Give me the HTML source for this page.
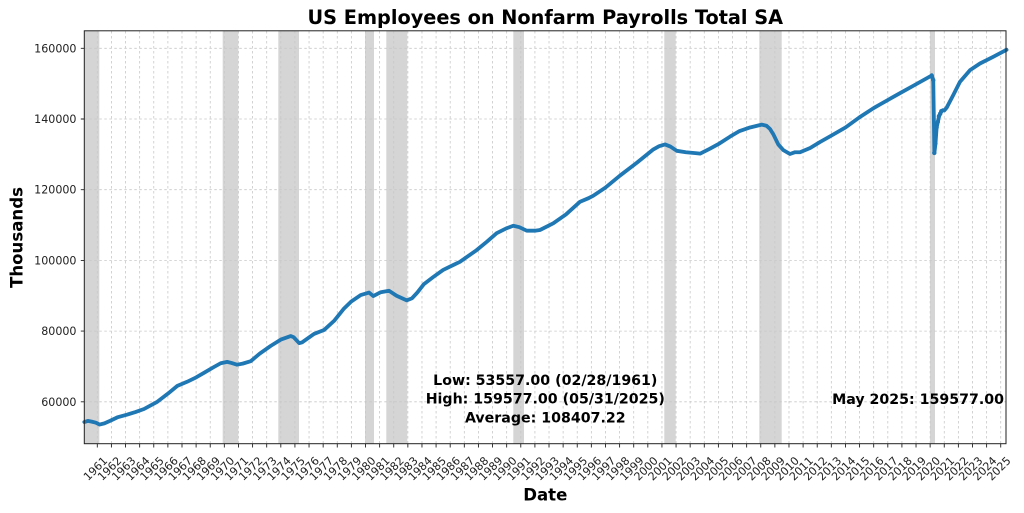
<!DOCTYPE html>
<html><head><meta charset="utf-8"><style>
html,body{margin:0;padding:0;background:#fff;}
svg{display:block;}
text{font-family:"DejaVu Sans","Liberation Sans",sans-serif;}
</style></head><body>
<svg width="1024" height="513" viewBox="0 0 1024 513" xmlns="http://www.w3.org/2000/svg">
<rect width="1024" height="513" fill="#fff"/>
<!-- recession bands -->
<g fill="#d5d5d5">
<rect x="84.3" y="31" width="15" height="413"/>
<rect x="222.7" y="31" width="15.6" height="413"/>
<rect x="278.3" y="31" width="20.7" height="413"/>
<rect x="365" y="31" width="9" height="413"/>
<rect x="386.3" y="31" width="21" height="413"/>
<rect x="513.3" y="31" width="10.7" height="413"/>
<rect x="664.3" y="31" width="11.4" height="413"/>
<rect x="759.3" y="31" width="22.4" height="413"/>
<rect x="930" y="31" width="5" height="413"/>
</g>
<!-- grid -->
<path fill="none" stroke="#c8c8c8" stroke-width="0.8" stroke-dasharray="2.5,2.5" d="M97.30 31V444M111.42 31V444M125.53 31V444M139.65 31V444M153.76 31V444M167.88 31V444M182.00 31V444M196.11 31V444M210.23 31V444M224.34 31V444M238.46 31V444M252.58 31V444M266.69 31V444M280.81 31V444M294.92 31V444M309.04 31V444M323.16 31V444M337.27 31V444M351.39 31V444M365.50 31V444M379.62 31V444M393.74 31V444M407.85 31V444M421.97 31V444M436.08 31V444M450.20 31V444M464.32 31V444M478.43 31V444M492.55 31V444M506.66 31V444M520.78 31V444M534.90 31V444M549.01 31V444M563.13 31V444M577.24 31V444M591.36 31V444M605.48 31V444M619.59 31V444M633.71 31V444M647.82 31V444M661.94 31V444M676.06 31V444M690.17 31V444M704.29 31V444M718.40 31V444M732.52 31V444M746.64 31V444M760.75 31V444M774.87 31V444M788.98 31V444M803.10 31V444M817.22 31V444M831.33 31V444M845.45 31V444M859.56 31V444M873.68 31V444M887.80 31V444M901.91 31V444M916.03 31V444M930.14 31V444M944.26 31V444M958.38 31V444M972.49 31V444M986.61 31V444M1000.72 31V444M84.3 401.8H1006M84.3 331.1H1006M84.3 260.4H1006M84.3 189.7H1006M84.3 119.0H1006M84.3 48.3H1006"/>
<!-- data line -->
<polyline fill="none" stroke="#1f77b4" stroke-width="3.8" stroke-linejoin="round" stroke-linecap="round" vector-effect="non-scaling-stroke" transform="matrix(14.116 0 0 -3.535 83.184 613.9)" points="0.08,54.27 0.33,54.60 0.6,54.4 0.9,54.1 1.16,53.56 1.5,53.9 1.9,54.6 2.42,55.6 3.13,56.4 3.7,57.1 4.31,57.96 5.25,60.0 6.0,62.3 6.67,64.5 7.38,65.7 8.0,66.9 8.56,68.2 9.2,69.7 9.74,70.9 10.2,71.3 10.5,71.0 10.9,70.5 11.3,70.8 11.87,71.5 12.5,73.6 13.28,75.8 14.0,77.6 14.7,78.6 14.9,78.3 15.3,76.6 15.5,76.8 16.35,79.2 17.06,80.3 17.8,83.0 18.48,86.4 19.0,88.4 19.66,90.2 20.25,90.9 20.55,89.9 21.08,91.0 21.67,91.4 22.2,90.0 22.92,88.7 23.3,89.3 23.67,90.9 24.14,93.3 24.8,95.3 25.5,97.3 26.22,98.7 26.69,99.6 27.87,102.9 28.6,105.3 29.29,107.7 30.0,109.1 30.47,109.8 30.9,109.4 31.42,108.4 32.0,108.4 32.36,108.6 33.3,110.5 34.2,113.0 35.2,116.6 35.8,117.6 36.14,118.3 37.0,120.6 38.03,124.0 39.21,127.6 40.39,131.4 40.8,132.3 41.22,132.8 41.6,132.2 42.05,131.0 42.7,130.6 43.46,130.3 43.7,130.2 44.4,131.6 45.0,132.9 45.82,135.0 46.5,136.6 47.24,137.6 48.07,138.4 48.4,138.1 48.65,137.2 48.9,135.6 49.24,132.8 49.6,131.2 50.07,130.1 50.43,130.6 50.78,130.6 51.5,131.8 52.2,133.5 53.0,135.3 54.0,137.6 55.0,140.5 56.0,143.1 56.44,144.1 57.86,147.3 58.81,149.4 60.11,152.3 60.22,151.0 60.3,130.4 60.38,133.1 60.46,137.6 60.55,139.2 60.63,140.8 60.72,141.5 60.8,142.2 60.9,142.5 61.0,142.4 61.17,143.2 61.64,146.8 62.11,150.5 62.82,153.8 63.53,155.7 64.47,157.6 65.41,159.58"/>
<g fill="#1f77b4">
<circle cx="931.7" cy="75.5" r="2.2"/><circle cx="933.2" cy="80.1" r="2.2"/><circle cx="934.3" cy="152.9" r="2.2"/><circle cx="935.4" cy="143.4" r="2.2"/><circle cx="936.6" cy="127.5" r="2.2"/><circle cx="937.8" cy="121.8" r="2.2"/><circle cx="938.9" cy="116.2" r="2.2"/><circle cx="940.2" cy="113.7" r="2.2"/><circle cx="941.3" cy="111.2" r="2.2"/>
</g>
<!-- frame -->
<rect x="84.3" y="30.8" width="921.7" height="412.9" fill="none" stroke="#222" stroke-width="1"/>
<!-- ticks -->
<path fill="none" stroke="#222" stroke-width="0.9" d="M97.30 444v3.5M111.42 444v3.5M125.53 444v3.5M139.65 444v3.5M153.76 444v3.5M167.88 444v3.5M182.00 444v3.5M196.11 444v3.5M210.23 444v3.5M224.34 444v3.5M238.46 444v3.5M252.58 444v3.5M266.69 444v3.5M280.81 444v3.5M294.92 444v3.5M309.04 444v3.5M323.16 444v3.5M337.27 444v3.5M351.39 444v3.5M365.50 444v3.5M379.62 444v3.5M393.74 444v3.5M407.85 444v3.5M421.97 444v3.5M436.08 444v3.5M450.20 444v3.5M464.32 444v3.5M478.43 444v3.5M492.55 444v3.5M506.66 444v3.5M520.78 444v3.5M534.90 444v3.5M549.01 444v3.5M563.13 444v3.5M577.24 444v3.5M591.36 444v3.5M605.48 444v3.5M619.59 444v3.5M633.71 444v3.5M647.82 444v3.5M661.94 444v3.5M676.06 444v3.5M690.17 444v3.5M704.29 444v3.5M718.40 444v3.5M732.52 444v3.5M746.64 444v3.5M760.75 444v3.5M774.87 444v3.5M788.98 444v3.5M803.10 444v3.5M817.22 444v3.5M831.33 444v3.5M845.45 444v3.5M859.56 444v3.5M873.68 444v3.5M887.80 444v3.5M901.91 444v3.5M916.03 444v3.5M930.14 444v3.5M944.26 444v3.5M958.38 444v3.5M972.49 444v3.5M986.61 444v3.5M1000.72 444v3.5M84.3 401.8h-3.5M84.3 331.1h-3.5M84.3 260.4h-3.5M84.3 189.7h-3.5M84.3 119.0h-3.5M84.3 48.3h-3.5"/>
<!-- y tick labels -->
<g font-size="11.1" fill="#222" text-anchor="end">
<text x="76.5" y="405.8">60000</text>
<text x="76.5" y="335.1">80000</text>
<text x="76.5" y="264.4">100000</text>
<text x="76.5" y="193.7">120000</text>
<text x="76.5" y="123.0">140000</text>
<text x="76.5" y="52.3">160000</text>
</g>
<!-- x tick labels -->
<g font-size="11.1" fill="#222" text-anchor="middle">
<text transform="translate(95.3,468.5) rotate(-45)" dy="0.36em">1961</text>
<text transform="translate(109.42,468.5) rotate(-45)" dy="0.36em">1962</text>
<text transform="translate(123.53,468.5) rotate(-45)" dy="0.36em">1963</text>
<text transform="translate(137.65,468.5) rotate(-45)" dy="0.36em">1964</text>
<text transform="translate(151.76,468.5) rotate(-45)" dy="0.36em">1965</text>
<text transform="translate(165.88,468.5) rotate(-45)" dy="0.36em">1966</text>
<text transform="translate(180.00,468.5) rotate(-45)" dy="0.36em">1967</text>
<text transform="translate(194.11,468.5) rotate(-45)" dy="0.36em">1968</text>
<text transform="translate(208.23,468.5) rotate(-45)" dy="0.36em">1969</text>
<text transform="translate(222.34,468.5) rotate(-45)" dy="0.36em">1970</text>
<text transform="translate(236.46,468.5) rotate(-45)" dy="0.36em">1971</text>
<text transform="translate(250.58,468.5) rotate(-45)" dy="0.36em">1972</text>
<text transform="translate(264.69,468.5) rotate(-45)" dy="0.36em">1973</text>
<text transform="translate(278.81,468.5) rotate(-45)" dy="0.36em">1974</text>
<text transform="translate(292.92,468.5) rotate(-45)" dy="0.36em">1975</text>
<text transform="translate(307.04,468.5) rotate(-45)" dy="0.36em">1976</text>
<text transform="translate(321.16,468.5) rotate(-45)" dy="0.36em">1977</text>
<text transform="translate(335.27,468.5) rotate(-45)" dy="0.36em">1978</text>
<text transform="translate(349.39,468.5) rotate(-45)" dy="0.36em">1979</text>
<text transform="translate(363.50,468.5) rotate(-45)" dy="0.36em">1980</text>
<text transform="translate(377.62,468.5) rotate(-45)" dy="0.36em">1981</text>
<text transform="translate(391.74,468.5) rotate(-45)" dy="0.36em">1982</text>
<text transform="translate(405.85,468.5) rotate(-45)" dy="0.36em">1983</text>
<text transform="translate(419.97,468.5) rotate(-45)" dy="0.36em">1984</text>
<text transform="translate(434.08,468.5) rotate(-45)" dy="0.36em">1985</text>
<text transform="translate(448.20,468.5) rotate(-45)" dy="0.36em">1986</text>
<text transform="translate(462.32,468.5) rotate(-45)" dy="0.36em">1987</text>
<text transform="translate(476.43,468.5) rotate(-45)" dy="0.36em">1988</text>
<text transform="translate(490.55,468.5) rotate(-45)" dy="0.36em">1989</text>
<text transform="translate(504.66,468.5) rotate(-45)" dy="0.36em">1990</text>
<text transform="translate(518.78,468.5) rotate(-45)" dy="0.36em">1991</text>
<text transform="translate(532.90,468.5) rotate(-45)" dy="0.36em">1992</text>
<text transform="translate(547.01,468.5) rotate(-45)" dy="0.36em">1993</text>
<text transform="translate(561.13,468.5) rotate(-45)" dy="0.36em">1994</text>
<text transform="translate(575.24,468.5) rotate(-45)" dy="0.36em">1995</text>
<text transform="translate(589.36,468.5) rotate(-45)" dy="0.36em">1996</text>
<text transform="translate(603.48,468.5) rotate(-45)" dy="0.36em">1997</text>
<text transform="translate(617.59,468.5) rotate(-45)" dy="0.36em">1998</text>
<text transform="translate(631.71,468.5) rotate(-45)" dy="0.36em">1999</text>
<text transform="translate(645.82,468.5) rotate(-45)" dy="0.36em">2000</text>
<text transform="translate(659.94,468.5) rotate(-45)" dy="0.36em">2001</text>
<text transform="translate(674.06,468.5) rotate(-45)" dy="0.36em">2002</text>
<text transform="translate(688.17,468.5) rotate(-45)" dy="0.36em">2003</text>
<text transform="translate(702.29,468.5) rotate(-45)" dy="0.36em">2004</text>
<text transform="translate(716.40,468.5) rotate(-45)" dy="0.36em">2005</text>
<text transform="translate(730.52,468.5) rotate(-45)" dy="0.36em">2006</text>
<text transform="translate(744.64,468.5) rotate(-45)" dy="0.36em">2007</text>
<text transform="translate(758.75,468.5) rotate(-45)" dy="0.36em">2008</text>
<text transform="translate(772.87,468.5) rotate(-45)" dy="0.36em">2009</text>
<text transform="translate(786.98,468.5) rotate(-45)" dy="0.36em">2010</text>
<text transform="translate(801.10,468.5) rotate(-45)" dy="0.36em">2011</text>
<text transform="translate(815.22,468.5) rotate(-45)" dy="0.36em">2012</text>
<text transform="translate(829.33,468.5) rotate(-45)" dy="0.36em">2013</text>
<text transform="translate(843.45,468.5) rotate(-45)" dy="0.36em">2014</text>
<text transform="translate(857.56,468.5) rotate(-45)" dy="0.36em">2015</text>
<text transform="translate(871.68,468.5) rotate(-45)" dy="0.36em">2016</text>
<text transform="translate(885.80,468.5) rotate(-45)" dy="0.36em">2017</text>
<text transform="translate(899.91,468.5) rotate(-45)" dy="0.36em">2018</text>
<text transform="translate(914.03,468.5) rotate(-45)" dy="0.36em">2019</text>
<text transform="translate(928.14,468.5) rotate(-45)" dy="0.36em">2020</text>
<text transform="translate(942.26,468.5) rotate(-45)" dy="0.36em">2021</text>
<text transform="translate(956.38,468.5) rotate(-45)" dy="0.36em">2022</text>
<text transform="translate(970.49,468.5) rotate(-45)" dy="0.36em">2023</text>
<text transform="translate(984.61,468.5) rotate(-45)" dy="0.36em">2024</text>
<text transform="translate(998.72,468.5) rotate(-45)" dy="0.36em">2025</text>
</g>
<!-- annotations -->
<g font-size="14.2" font-weight="bold" fill="#000" text-anchor="middle">
<text x="545.3" y="385">Low: 53557.00 (02/28/1961)</text>
<text x="545.3" y="403.7">High: 159577.00 (05/31/2025)</text>
<text x="545.3" y="422.4">Average: 108407.22</text>
</g>
<text x="1004" y="404" font-size="14.2" font-weight="bold" text-anchor="end" fill="#000">May 2025: 159577.00</text>
<!-- title & axis labels -->
<text x="545.3" y="24" font-size="19.3" font-weight="bold" text-anchor="middle" fill="#000">US Employees on Nonfarm Payrolls Total SA</text>
<text x="545.3" y="500.5" font-size="16.6" font-weight="bold" text-anchor="middle" fill="#000">Date</text>
<text transform="translate(22.6,237.5) rotate(-90)" font-size="16.6" font-weight="bold" text-anchor="middle" fill="#000">Thousands</text>
</svg>
</body></html>
